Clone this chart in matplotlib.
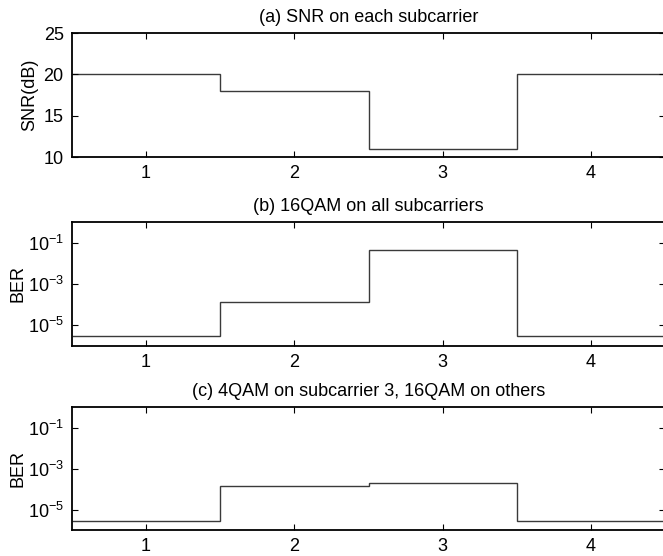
import matplotlib
matplotlib.use("Agg")
import matplotlib.pyplot as plt
import numpy as np

plt.rcParams['font.family'] = ['Liberation Sans', 'DejaVu Sans']
plt.rcParams['mathtext.fontset'] = 'custom'
plt.rcParams['mathtext.rm'] = 'Liberation Sans'
plt.rcParams['mathtext.it'] = 'Liberation Sans:italic'
plt.rcParams['mathtext.bf'] = 'Liberation Sans:bold'

subcarriers = [1, 2, 3, 4]
snr_db = [20, 18, 11, 20]
ber_16qam_all = [2.9e-6, 1.35e-4, 4.2e-2, 2.9e-6]
ber_mixed = [2.9e-6, 1.45e-4, 2.0e-4, 2.9e-6]

titles = ["(a) SNR on each subcarrier",
          "(b) 16QAM on all subcarriers",
          "(c) 4QAM on subcarrier 3, 16QAM on others"]
ber_ticks = [1e-1, 1e-3, 1e-5]
ber_ticklabels = [r"$\mathregular{10^{-1}}$", r"$\mathregular{10^{-3}}$",
                  r"$\mathregular{10^{-5}}$"]

W, H = 663, 556
fs = 13
fig = plt.figure(figsize=(W / 100, H / 100), dpi=100)

left = 72 / W
width = (665 - 72) / W
rows = [(33, 157), (222, 346), (407, 530)]
axes = []
for top, bot in rows:
    ax = fig.add_axes([left, 1 - bot / H, width, (bot - top) / H])
    axes.append(ax)

edges = np.concatenate([[subcarriers[0] - 0.5], np.array(subcarriers) + 0.5])
line_kw = dict(color="#3a3a3a", linewidth=1.0, baseline=None)

def style(ax):
    ax.set_xlim(0.5, 4.5)
    ax.set_xticks(subcarriers)
    ax.tick_params(direction="in", top=True, right=True, length=4,
                   width=0.8, labelsize=fs, pad=6)
    ax.tick_params(which="minor", left=False, right=False)
    for s in ax.spines.values():
        s.set_linewidth(1.3)

ax = axes[0]
ax.stairs(snr_db, edges, **line_kw)
ax.set_ylim(10, 25)
ax.set_yticks([10, 15, 20, 25])
ax.set_ylabel("SNR(dB)", fontsize=fs, labelpad=4)
style(ax)

for ax, vals in zip(axes[1:], [ber_16qam_all, ber_mixed]):
    ax.stairs(vals, edges, **line_kw)
    ax.set_yscale("log")
    ax.set_ylim(1e-6, 1)
    ax.set_yticks(ber_ticks)
    ax.set_yticklabels(ber_ticklabels)
    ax.yaxis.set_minor_locator(matplotlib.ticker.NullLocator())
    ax.set_ylabel("BER", fontsize=fs, labelpad=1)
    style(ax)

for ax, t in zip(axes, titles):
    ax.set_title(t, fontsize=fs, pad=8)

fig.savefig("out.png", dpi=100)
